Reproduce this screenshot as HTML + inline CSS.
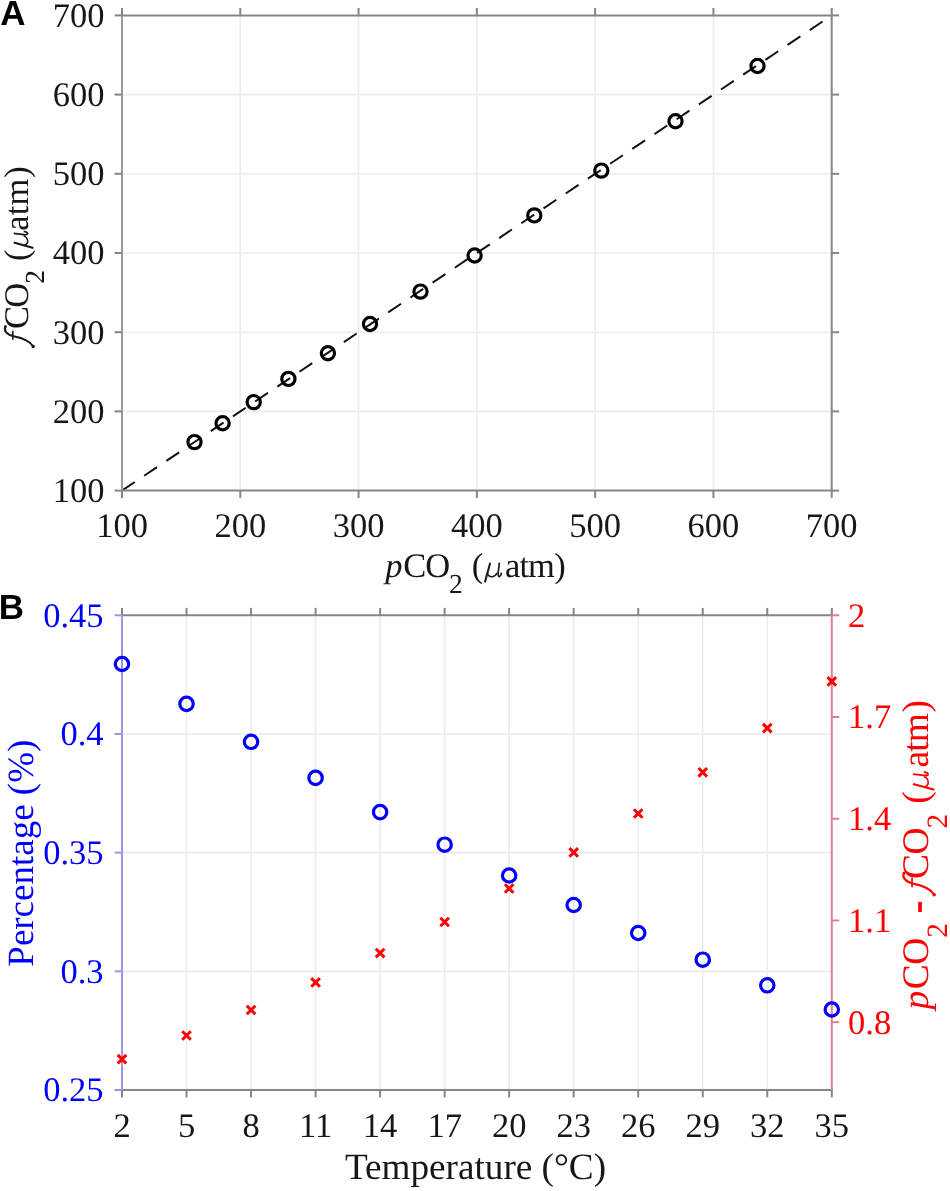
<!DOCTYPE html>
<html><head><meta charset="utf-8"><title>Figure</title>
<style>
html,body{margin:0;padding:0;background:#fff;overflow:hidden;width:950px;height:1191px;}
svg{display:block;will-change:transform;font-family:"Liberation Serif",serif;text-rendering:geometricPrecision;}
</style></head>
<body>
<svg width="950" height="1191" viewBox="0 0 950 1191">
<rect width="950" height="1191" fill="#fff"/>
<line x1="240.28" y1="15.40" x2="240.28" y2="490.60" stroke="#ececec" stroke-width="1.6" />
<line x1="122.00" y1="411.40" x2="831.70" y2="411.40" stroke="#ececec" stroke-width="1.6" />
<line x1="358.57" y1="15.40" x2="358.57" y2="490.60" stroke="#ececec" stroke-width="1.6" />
<line x1="122.00" y1="332.20" x2="831.70" y2="332.20" stroke="#ececec" stroke-width="1.6" />
<line x1="476.85" y1="15.40" x2="476.85" y2="490.60" stroke="#ececec" stroke-width="1.6" />
<line x1="122.00" y1="253.00" x2="831.70" y2="253.00" stroke="#ececec" stroke-width="1.6" />
<line x1="595.13" y1="15.40" x2="595.13" y2="490.60" stroke="#ececec" stroke-width="1.6" />
<line x1="122.00" y1="173.80" x2="831.70" y2="173.80" stroke="#ececec" stroke-width="1.6" />
<line x1="713.42" y1="15.40" x2="713.42" y2="490.60" stroke="#ececec" stroke-width="1.6" />
<line x1="122.00" y1="94.60" x2="831.70" y2="94.60" stroke="#ececec" stroke-width="1.6" />
<line x1="122.00" y1="490.60" x2="831.70" y2="15.40" stroke="#111" stroke-width="2.0" stroke-dasharray="15.4 11.3"/>
<circle cx="194.5" cy="442.1" r="6.6" fill="none" stroke="#000" stroke-width="3.2"/>
<circle cx="222.6" cy="423.2" r="6.6" fill="none" stroke="#000" stroke-width="3.2"/>
<circle cx="253.7" cy="402.1" r="6.6" fill="none" stroke="#000" stroke-width="3.2"/>
<circle cx="288.4" cy="378.9" r="6.6" fill="none" stroke="#000" stroke-width="3.2"/>
<circle cx="327.9" cy="353.2" r="6.6" fill="none" stroke="#000" stroke-width="3.2"/>
<circle cx="370.0" cy="324.0" r="6.6" fill="none" stroke="#000" stroke-width="3.2"/>
<circle cx="420.5" cy="291.6" r="6.6" fill="none" stroke="#000" stroke-width="3.2"/>
<circle cx="474.6" cy="255.5" r="6.6" fill="none" stroke="#000" stroke-width="3.2"/>
<circle cx="534.3" cy="215.4" r="6.6" fill="none" stroke="#000" stroke-width="3.2"/>
<circle cx="601.3" cy="170.6" r="6.6" fill="none" stroke="#000" stroke-width="3.2"/>
<circle cx="675.5" cy="121.3" r="6.6" fill="none" stroke="#000" stroke-width="3.2"/>
<circle cx="757.5" cy="66.0" r="6.6" fill="none" stroke="#000" stroke-width="3.2"/>
<line x1="121.00" y1="15.40" x2="832.70" y2="15.40" stroke="#868686" stroke-width="2.0" />
<line x1="121.00" y1="490.60" x2="832.70" y2="490.60" stroke="#868686" stroke-width="2.0" />
<line x1="831.70" y1="15.40" x2="831.70" y2="490.60" stroke="#868686" stroke-width="2.0" />
<line x1="122.00" y1="15.40" x2="122.00" y2="490.60" stroke="#9a9a9a" stroke-width="2.0" />
<line x1="122.00" y1="490.60" x2="122.00" y2="498.00" stroke="#868686" stroke-width="2.0" />
<line x1="122.00" y1="15.40" x2="122.00" y2="8.00" stroke="#868686" stroke-width="2.0" />
<line x1="122.00" y1="490.60" x2="114.60" y2="490.60" stroke="#868686" stroke-width="2.0" />
<line x1="831.70" y1="490.60" x2="839.10" y2="490.60" stroke="#868686" stroke-width="2.0" />
<text x="122.00" y="536.90" fill="#171717" font-size="34.5" text-anchor="middle" >100</text>
<text x="104.50" y="502.00" fill="#171717" font-size="34.5" text-anchor="end" >100</text>
<line x1="240.28" y1="490.60" x2="240.28" y2="498.00" stroke="#868686" stroke-width="2.0" />
<line x1="240.28" y1="15.40" x2="240.28" y2="8.00" stroke="#868686" stroke-width="2.0" />
<line x1="122.00" y1="411.40" x2="114.60" y2="411.40" stroke="#868686" stroke-width="2.0" />
<line x1="831.70" y1="411.40" x2="839.10" y2="411.40" stroke="#868686" stroke-width="2.0" />
<text x="240.28" y="536.90" fill="#171717" font-size="34.5" text-anchor="middle" >200</text>
<text x="104.50" y="422.80" fill="#171717" font-size="34.5" text-anchor="end" >200</text>
<line x1="358.57" y1="490.60" x2="358.57" y2="498.00" stroke="#868686" stroke-width="2.0" />
<line x1="358.57" y1="15.40" x2="358.57" y2="8.00" stroke="#868686" stroke-width="2.0" />
<line x1="122.00" y1="332.20" x2="114.60" y2="332.20" stroke="#868686" stroke-width="2.0" />
<line x1="831.70" y1="332.20" x2="839.10" y2="332.20" stroke="#868686" stroke-width="2.0" />
<text x="358.57" y="536.90" fill="#171717" font-size="34.5" text-anchor="middle" >300</text>
<text x="104.50" y="343.60" fill="#171717" font-size="34.5" text-anchor="end" >300</text>
<line x1="476.85" y1="490.60" x2="476.85" y2="498.00" stroke="#868686" stroke-width="2.0" />
<line x1="476.85" y1="15.40" x2="476.85" y2="8.00" stroke="#868686" stroke-width="2.0" />
<line x1="122.00" y1="253.00" x2="114.60" y2="253.00" stroke="#868686" stroke-width="2.0" />
<line x1="831.70" y1="253.00" x2="839.10" y2="253.00" stroke="#868686" stroke-width="2.0" />
<text x="476.85" y="536.90" fill="#171717" font-size="34.5" text-anchor="middle" >400</text>
<text x="104.50" y="264.40" fill="#171717" font-size="34.5" text-anchor="end" >400</text>
<line x1="595.13" y1="490.60" x2="595.13" y2="498.00" stroke="#868686" stroke-width="2.0" />
<line x1="595.13" y1="15.40" x2="595.13" y2="8.00" stroke="#868686" stroke-width="2.0" />
<line x1="122.00" y1="173.80" x2="114.60" y2="173.80" stroke="#868686" stroke-width="2.0" />
<line x1="831.70" y1="173.80" x2="839.10" y2="173.80" stroke="#868686" stroke-width="2.0" />
<text x="595.13" y="536.90" fill="#171717" font-size="34.5" text-anchor="middle" >500</text>
<text x="104.50" y="185.20" fill="#171717" font-size="34.5" text-anchor="end" >500</text>
<line x1="713.42" y1="490.60" x2="713.42" y2="498.00" stroke="#868686" stroke-width="2.0" />
<line x1="713.42" y1="15.40" x2="713.42" y2="8.00" stroke="#868686" stroke-width="2.0" />
<line x1="122.00" y1="94.60" x2="114.60" y2="94.60" stroke="#868686" stroke-width="2.0" />
<line x1="831.70" y1="94.60" x2="839.10" y2="94.60" stroke="#868686" stroke-width="2.0" />
<text x="713.42" y="536.90" fill="#171717" font-size="34.5" text-anchor="middle" >600</text>
<text x="104.50" y="106.00" fill="#171717" font-size="34.5" text-anchor="end" >600</text>
<line x1="831.70" y1="490.60" x2="831.70" y2="498.00" stroke="#868686" stroke-width="2.0" />
<line x1="831.70" y1="15.40" x2="831.70" y2="8.00" stroke="#868686" stroke-width="2.0" />
<line x1="122.00" y1="15.40" x2="114.60" y2="15.40" stroke="#868686" stroke-width="2.0" />
<line x1="831.70" y1="15.40" x2="839.10" y2="15.40" stroke="#868686" stroke-width="2.0" />
<text x="831.70" y="536.90" fill="#171717" font-size="34.5" text-anchor="middle" >700</text>
<text x="104.50" y="26.80" fill="#171717" font-size="34.5" text-anchor="end" >700</text>
<text x="385.30" y="576.50" fill="#171717" font-size="34.5" font-style="italic">p</text>
<text x="403.30" y="576.50" fill="#171717" font-size="34.5">C</text>
<text x="425.30" y="576.50" fill="#171717" font-size="34.5">O</text>
<text x="449.10" y="592.60" fill="#171717" font-size="27.5">2</text>
<text x="471.70" y="576.50" fill="#171717" font-size="34.5">(</text>
<g transform="translate(483.50,576.50) scale(34.5,-34.5)" fill="none" stroke="#171717"><path d="M0.040,-0.170 L0.195,0.400" stroke-width="0.058"/><path d="M0.110,0.100 C0.140,0.010 0.200,-0.012 0.255,-0.005 C0.320,0.005 0.370,0.050 0.395,0.110" stroke-width="0.042"/><path d="M0.460,0.400 L0.425,0.110 C0.415,0.040 0.430,-0.008 0.460,-0.003 C0.490,0.005 0.510,0.050 0.520,0.110" stroke-width="0.048"/></g>
<text x="505.00" y="576.50" fill="#171717" font-size="34.5" letter-spacing="-0.9">atm</text>
<text x="554.20" y="576.50" fill="#171717" font-size="34.5">)</text>
<g transform="translate(27.5,400) rotate(-90)">
<g transform="translate(58.90,0.00) scale(34.5,-34.5)" fill="none" stroke="#171717" stroke-linecap="round"><path d="M-0.157,-0.165 C-0.080,-0.120 0.060,0.000 0.139,0.400 C0.190,0.600 0.300,0.700 0.420,0.640" stroke-width="0.058"/><path d="M0.040,0.425 L0.300,0.425" stroke-width="0.045" stroke-linecap="butt"/><circle cx="-0.157" cy="-0.165" r="0.048" fill="#171717" stroke="none"/><circle cx="0.420" cy="0.640" r="0.040" fill="#171717" stroke="none"/></g>
<text x="71.00" y="0.00" fill="#171717" font-size="34.5">C</text>
<text x="92.30" y="0.00" fill="#171717" font-size="34.5">O</text>
<text x="116.20" y="16.20" fill="#171717" font-size="27.5">2</text>
<text x="139.10" y="0.00" fill="#171717" font-size="34.5">(</text>
<g transform="translate(150.70,0.00) scale(34.5,-34.5)" fill="none" stroke="#171717"><path d="M0.040,-0.170 L0.195,0.400" stroke-width="0.058"/><path d="M0.110,0.100 C0.140,0.010 0.200,-0.012 0.255,-0.005 C0.320,0.005 0.370,0.050 0.395,0.110" stroke-width="0.042"/><path d="M0.460,0.400 L0.425,0.110 C0.415,0.040 0.430,-0.008 0.460,-0.003 C0.490,0.005 0.510,0.050 0.520,0.110" stroke-width="0.048"/></g>
<text x="169.30" y="0.00" fill="#171717" font-size="34.5" letter-spacing="0.2">atm</text>
<text x="222.20" y="0.00" fill="#171717" font-size="34.5">)</text>
</g>
<text x="0.2" y="25.3" fill="#000" font-size="35" font-family="Liberation Sans" font-weight="bold">A</text>
<line x1="186.53" y1="615.30" x2="186.53" y2="1090.00" stroke="#ececec" stroke-width="1.6" />
<line x1="251.05" y1="615.30" x2="251.05" y2="1090.00" stroke="#ececec" stroke-width="1.6" />
<line x1="315.58" y1="615.30" x2="315.58" y2="1090.00" stroke="#ececec" stroke-width="1.6" />
<line x1="380.11" y1="615.30" x2="380.11" y2="1090.00" stroke="#ececec" stroke-width="1.6" />
<line x1="444.64" y1="615.30" x2="444.64" y2="1090.00" stroke="#ececec" stroke-width="1.6" />
<line x1="509.16" y1="615.30" x2="509.16" y2="1090.00" stroke="#ececec" stroke-width="1.6" />
<line x1="573.69" y1="615.30" x2="573.69" y2="1090.00" stroke="#ececec" stroke-width="1.6" />
<line x1="638.22" y1="615.30" x2="638.22" y2="1090.00" stroke="#ececec" stroke-width="1.6" />
<line x1="702.75" y1="615.30" x2="702.75" y2="1090.00" stroke="#ececec" stroke-width="1.6" />
<line x1="767.27" y1="615.30" x2="767.27" y2="1090.00" stroke="#ececec" stroke-width="1.6" />
<line x1="122.00" y1="971.33" x2="831.80" y2="971.33" stroke="#eaeaf5" stroke-width="1.6" />
<line x1="122.00" y1="852.65" x2="831.80" y2="852.65" stroke="#eaeaf5" stroke-width="1.6" />
<line x1="122.00" y1="733.97" x2="831.80" y2="733.97" stroke="#eaeaf5" stroke-width="1.6" />
<line x1="121.00" y1="615.30" x2="832.80" y2="615.30" stroke="#868686" stroke-width="2.0" />
<line x1="121.00" y1="1090.00" x2="832.80" y2="1090.00" stroke="#868686" stroke-width="2.0" />
<line x1="122.00" y1="1090.00" x2="122.00" y2="1097.40" stroke="#868686" stroke-width="2.0" />
<line x1="122.00" y1="615.30" x2="122.00" y2="607.90" stroke="#868686" stroke-width="2.0" />
<text x="122.00" y="1136.90" fill="#171717" font-size="34.5" text-anchor="middle" >2</text>
<line x1="186.53" y1="1090.00" x2="186.53" y2="1097.40" stroke="#868686" stroke-width="2.0" />
<line x1="186.53" y1="615.30" x2="186.53" y2="607.90" stroke="#868686" stroke-width="2.0" />
<text x="186.53" y="1136.90" fill="#171717" font-size="34.5" text-anchor="middle" >5</text>
<line x1="251.05" y1="1090.00" x2="251.05" y2="1097.40" stroke="#868686" stroke-width="2.0" />
<line x1="251.05" y1="615.30" x2="251.05" y2="607.90" stroke="#868686" stroke-width="2.0" />
<text x="251.05" y="1136.90" fill="#171717" font-size="34.5" text-anchor="middle" >8</text>
<line x1="315.58" y1="1090.00" x2="315.58" y2="1097.40" stroke="#868686" stroke-width="2.0" />
<line x1="315.58" y1="615.30" x2="315.58" y2="607.90" stroke="#868686" stroke-width="2.0" />
<text x="315.58" y="1136.90" fill="#171717" font-size="34.5" text-anchor="middle" >11</text>
<line x1="380.11" y1="1090.00" x2="380.11" y2="1097.40" stroke="#868686" stroke-width="2.0" />
<line x1="380.11" y1="615.30" x2="380.11" y2="607.90" stroke="#868686" stroke-width="2.0" />
<text x="380.11" y="1136.90" fill="#171717" font-size="34.5" text-anchor="middle" >14</text>
<line x1="444.64" y1="1090.00" x2="444.64" y2="1097.40" stroke="#868686" stroke-width="2.0" />
<line x1="444.64" y1="615.30" x2="444.64" y2="607.90" stroke="#868686" stroke-width="2.0" />
<text x="444.64" y="1136.90" fill="#171717" font-size="34.5" text-anchor="middle" >17</text>
<line x1="509.16" y1="1090.00" x2="509.16" y2="1097.40" stroke="#868686" stroke-width="2.0" />
<line x1="509.16" y1="615.30" x2="509.16" y2="607.90" stroke="#868686" stroke-width="2.0" />
<text x="509.16" y="1136.90" fill="#171717" font-size="34.5" text-anchor="middle" >20</text>
<line x1="573.69" y1="1090.00" x2="573.69" y2="1097.40" stroke="#868686" stroke-width="2.0" />
<line x1="573.69" y1="615.30" x2="573.69" y2="607.90" stroke="#868686" stroke-width="2.0" />
<text x="573.69" y="1136.90" fill="#171717" font-size="34.5" text-anchor="middle" >23</text>
<line x1="638.22" y1="1090.00" x2="638.22" y2="1097.40" stroke="#868686" stroke-width="2.0" />
<line x1="638.22" y1="615.30" x2="638.22" y2="607.90" stroke="#868686" stroke-width="2.0" />
<text x="638.22" y="1136.90" fill="#171717" font-size="34.5" text-anchor="middle" >26</text>
<line x1="702.75" y1="1090.00" x2="702.75" y2="1097.40" stroke="#868686" stroke-width="2.0" />
<line x1="702.75" y1="615.30" x2="702.75" y2="607.90" stroke="#868686" stroke-width="2.0" />
<text x="702.75" y="1136.90" fill="#171717" font-size="34.5" text-anchor="middle" >29</text>
<line x1="767.27" y1="1090.00" x2="767.27" y2="1097.40" stroke="#868686" stroke-width="2.0" />
<line x1="767.27" y1="615.30" x2="767.27" y2="607.90" stroke="#868686" stroke-width="2.0" />
<text x="767.27" y="1136.90" fill="#171717" font-size="34.5" text-anchor="middle" >32</text>
<line x1="831.80" y1="1090.00" x2="831.80" y2="1097.40" stroke="#868686" stroke-width="2.0" />
<line x1="831.80" y1="615.30" x2="831.80" y2="607.90" stroke="#868686" stroke-width="2.0" />
<text x="831.80" y="1136.90" fill="#171717" font-size="34.5" text-anchor="middle" >35</text>
<line x1="122.00" y1="615.30" x2="122.00" y2="1090.00" stroke="#9b97de" stroke-width="2.0" />
<line x1="122.00" y1="1090.00" x2="114.60" y2="1090.00" stroke="#9b97de" stroke-width="2.0" />
<text x="103.50" y="1101.40" fill="#0000ff" font-size="34.5" text-anchor="end" >0.25</text>
<line x1="122.00" y1="971.33" x2="114.60" y2="971.33" stroke="#9b97de" stroke-width="2.0" />
<text x="103.50" y="982.73" fill="#0000ff" font-size="34.5" text-anchor="end" >0.3</text>
<line x1="122.00" y1="852.65" x2="114.60" y2="852.65" stroke="#9b97de" stroke-width="2.0" />
<text x="103.50" y="864.05" fill="#0000ff" font-size="34.5" text-anchor="end" >0.35</text>
<line x1="122.00" y1="733.97" x2="114.60" y2="733.97" stroke="#9b97de" stroke-width="2.0" />
<text x="103.50" y="745.37" fill="#0000ff" font-size="34.5" text-anchor="end" >0.4</text>
<line x1="122.00" y1="615.30" x2="114.60" y2="615.30" stroke="#9b97de" stroke-width="2.0" />
<text x="103.50" y="626.70" fill="#0000ff" font-size="34.5" text-anchor="end" >0.45</text>
<line x1="831.80" y1="615.30" x2="831.80" y2="1090.00" stroke="#e0808c" stroke-width="2.0" />
<line x1="831.80" y1="1022.19" x2="839.20" y2="1022.19" stroke="#e0808c" stroke-width="2.0" />
<text x="848.00" y="1033.59" fill="#ff0000" font-size="34.5" text-anchor="start" >0.8</text>
<line x1="831.80" y1="920.46" x2="839.20" y2="920.46" stroke="#e0808c" stroke-width="2.0" />
<text x="848.00" y="931.86" fill="#ff0000" font-size="34.5" text-anchor="start" >1.1</text>
<line x1="831.80" y1="818.74" x2="839.20" y2="818.74" stroke="#e0808c" stroke-width="2.0" />
<text x="848.00" y="830.14" fill="#ff0000" font-size="34.5" text-anchor="start" >1.4</text>
<line x1="831.80" y1="717.02" x2="839.20" y2="717.02" stroke="#e0808c" stroke-width="2.0" />
<text x="848.00" y="728.42" fill="#ff0000" font-size="34.5" text-anchor="start" >1.7</text>
<line x1="831.80" y1="615.30" x2="839.20" y2="615.30" stroke="#e0808c" stroke-width="2.0" />
<text x="848.00" y="626.70" fill="#ff0000" font-size="34.5" text-anchor="start" >2</text>
<circle cx="122.00" cy="664.0" r="6.7" fill="none" stroke="#0000ff" stroke-width="3.2"/>
<circle cx="186.53" cy="703.9" r="6.7" fill="none" stroke="#0000ff" stroke-width="3.2"/>
<circle cx="251.05" cy="741.8" r="6.7" fill="none" stroke="#0000ff" stroke-width="3.2"/>
<circle cx="315.58" cy="777.9" r="6.7" fill="none" stroke="#0000ff" stroke-width="3.2"/>
<circle cx="380.11" cy="812.1" r="6.7" fill="none" stroke="#0000ff" stroke-width="3.2"/>
<circle cx="444.64" cy="844.7" r="6.7" fill="none" stroke="#0000ff" stroke-width="3.2"/>
<circle cx="509.16" cy="875.5" r="6.7" fill="none" stroke="#0000ff" stroke-width="3.2"/>
<circle cx="573.69" cy="905.0" r="6.7" fill="none" stroke="#0000ff" stroke-width="3.2"/>
<circle cx="638.22" cy="933.0" r="6.7" fill="none" stroke="#0000ff" stroke-width="3.2"/>
<circle cx="702.75" cy="959.7" r="6.7" fill="none" stroke="#0000ff" stroke-width="3.2"/>
<circle cx="767.27" cy="985.3" r="6.7" fill="none" stroke="#0000ff" stroke-width="3.2"/>
<circle cx="831.80" cy="1009.5" r="6.7" fill="none" stroke="#0000ff" stroke-width="3.2"/>
<path d="M117.70,1054.90L126.30,1063.50M117.70,1063.50L126.30,1054.90" stroke="#ff0000" stroke-width="3" fill="none"/>
<path d="M182.23,1031.20L190.83,1039.80M182.23,1039.80L190.83,1031.20" stroke="#ff0000" stroke-width="3" fill="none"/>
<path d="M246.75,1005.70L255.35,1014.30M246.75,1014.30L255.35,1005.70" stroke="#ff0000" stroke-width="3" fill="none"/>
<path d="M311.28,978.10L319.88,986.70M311.28,986.70L319.88,978.10" stroke="#ff0000" stroke-width="3" fill="none"/>
<path d="M375.81,948.80L384.41,957.40M375.81,957.40L384.41,948.80" stroke="#ff0000" stroke-width="3" fill="none"/>
<path d="M440.34,917.70L448.94,926.30M440.34,926.30L448.94,917.70" stroke="#ff0000" stroke-width="3" fill="none"/>
<path d="M504.86,884.20L513.46,892.80M504.86,892.80L513.46,884.20" stroke="#ff0000" stroke-width="3" fill="none"/>
<path d="M569.39,848.10L577.99,856.70M569.39,856.70L577.99,848.10" stroke="#ff0000" stroke-width="3" fill="none"/>
<path d="M633.92,809.20L642.52,817.80M633.92,817.80L642.52,809.20" stroke="#ff0000" stroke-width="3" fill="none"/>
<path d="M698.45,768.00L707.05,776.60M698.45,776.60L707.05,768.00" stroke="#ff0000" stroke-width="3" fill="none"/>
<path d="M762.97,723.80L771.57,732.40M762.97,732.40L771.57,723.80" stroke="#ff0000" stroke-width="3" fill="none"/>
<path d="M827.50,677.10L836.10,685.70M827.50,685.70L836.10,677.10" stroke="#ff0000" stroke-width="3" fill="none"/>
<text x="475.50" y="1179.30" fill="#171717" font-size="37.2" text-anchor="middle" >Temperature (°C)</text>
<text transform="translate(33.3,853.2) rotate(-90)" fill="#0000ff" font-size="37" text-anchor="middle">Percentage (%)</text>
<g transform="translate(928,1009.5) rotate(-90)">
<text x="0.00" y="0.00" fill="#ff0000" font-size="37.5" font-style="italic">p</text>
<text x="20.20" y="0.00" fill="#ff0000" font-size="37.5">C</text>
<text x="44.80" y="0.00" fill="#ff0000" font-size="37.5">O</text>
<text x="71.70" y="18.80" fill="#ff0000" font-size="29.5">2</text>
<rect x="97.50" y="-9.8" width="10.1" height="3.7" fill="#ff0000"/>
<g transform="translate(120.70,0.00) scale(37.5,-37.5)" fill="none" stroke="#ff0000" stroke-linecap="round"><path d="M-0.157,-0.165 C-0.080,-0.120 0.060,0.000 0.139,0.400 C0.190,0.600 0.300,0.700 0.420,0.640" stroke-width="0.058"/><path d="M0.040,0.425 L0.300,0.425" stroke-width="0.045" stroke-linecap="butt"/><circle cx="-0.157" cy="-0.165" r="0.048" fill="#ff0000" stroke="none"/><circle cx="0.420" cy="0.640" r="0.040" fill="#ff0000" stroke="none"/></g>
<text x="130.40" y="0.00" fill="#ff0000" font-size="37.5">C</text>
<text x="155.10" y="0.00" fill="#ff0000" font-size="37.5">O</text>
<text x="181.10" y="18.80" fill="#ff0000" font-size="29.5">2</text>
<text x="205.70" y="0.00" fill="#ff0000" font-size="37.5">(</text>
<g transform="translate(218.20,0.00) scale(37.5,-37.5)" fill="none" stroke="#ff0000"><path d="M0.040,-0.170 L0.195,0.400" stroke-width="0.058"/><path d="M0.110,0.100 C0.140,0.010 0.200,-0.012 0.255,-0.005 C0.320,0.005 0.370,0.050 0.395,0.110" stroke-width="0.042"/><path d="M0.460,0.400 L0.425,0.110 C0.415,0.040 0.430,-0.008 0.460,-0.003 C0.490,0.005 0.510,0.050 0.520,0.110" stroke-width="0.048"/></g>
<text x="242.00" y="0.00" fill="#ff0000" font-size="37.5" letter-spacing="-0.9">atm</text>
<text x="297.00" y="0.00" fill="#ff0000" font-size="37.5">)</text>
</g>
<text x="-1.3" y="619.1" fill="#000" font-size="35" font-family="Liberation Sans" font-weight="bold">B</text>
</svg>
</body></html>
